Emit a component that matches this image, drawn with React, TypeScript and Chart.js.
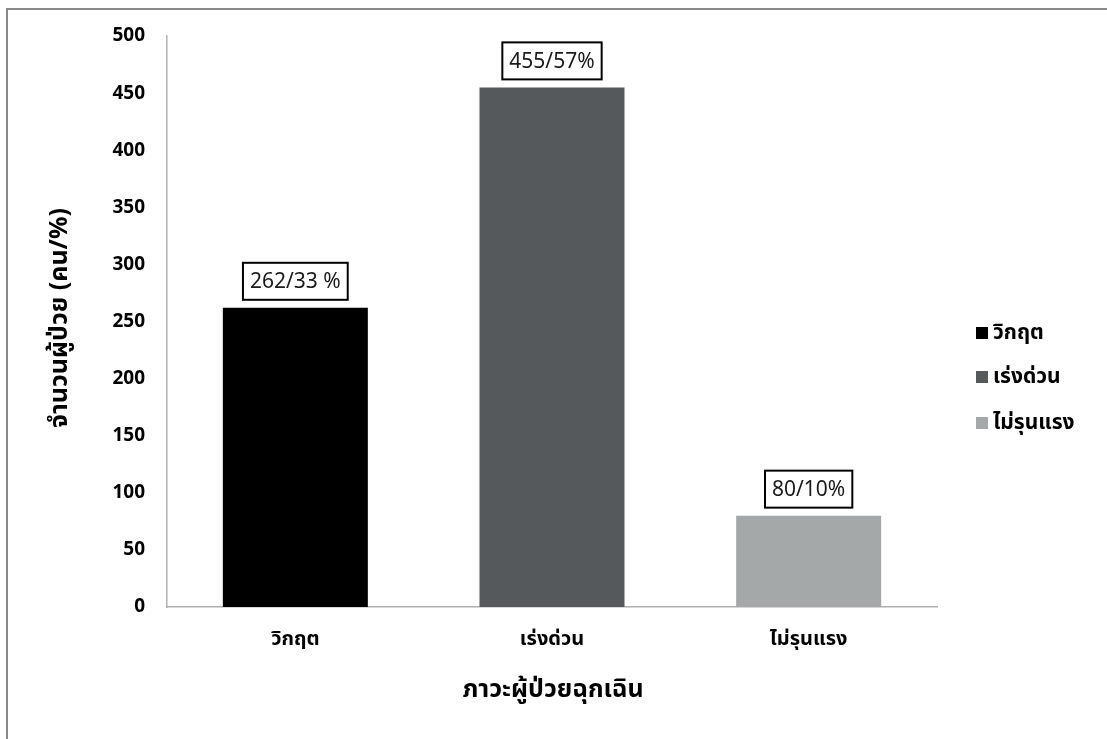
import React, { useEffect, useRef } from "react";
import { Chart, registerables } from "chart.js";

Chart.register(...registerables);

const categories = ["วิกฤต", "เร่งด่วน", "ไม่รุนแรง"];
const values = [262, 455, 80];
const valueLabels = ["262/33 %", "455/57%", "80/10%"];
const barColors = ["#000000", "#55595b", "#a4a8a8"];
const yTicks = [0, 50, 100, 150, 200, 250, 300, 350, 400, 450, 500];
const yTitle = "จำนวนผู้ป่วย (คน/%)";
const xTitle = "ภาวะผู้ป่วยฉุกเฉิน";

const FONT = "'Noto Sans', 'Noto Sans Thai', Tahoma, 'DejaVu Sans', sans-serif";

const decorPlugin = {
  id: "decor",
  beforeDraw(chart: any) {
    const ctx = chart.ctx;
    ctx.save();
    ctx.fillStyle = "#ffffff";
    ctx.fillRect(0, 0, chart.width, chart.height);
    ctx.strokeStyle = "#8a8a8a";
    ctx.lineWidth = 2;
    ctx.beginPath();
    ctx.moveTo(6, 9);
    ctx.lineTo(chart.width, 9);
    ctx.moveTo(7, 8);
    ctx.lineTo(7, chart.height);
    ctx.stroke();
    ctx.restore();
  },
  afterDraw(chart: any) {
    const ctx = chart.ctx;
    const meta = chart.getDatasetMeta(0);
    ctx.save();
    // data labels
    ctx.font = `21px ${FONT}`;
    ctx.textAlign = "center";
    ctx.textBaseline = "middle";
    meta.data.forEach((bar: any, i: number) => {
      const text = valueLabels[i];
      const w = ctx.measureText(text).width + 14;
      const h = 37;
      const bottom = bar.y - 8;
      const x0 = bar.x - w / 2;
      ctx.fillStyle = "#ffffff";
      ctx.fillRect(x0, bottom - h, w, h);
      ctx.strokeStyle = "#000000";
      ctx.lineWidth = 2;
      ctx.strokeRect(x0, bottom - h, w, h);
      ctx.fillStyle = "#1a1a1a";
      ctx.fillText(text, bar.x, bottom - h / 2 + 1);
    });
    // legend
    const legendY = [333, 377, 423];
    ctx.font = `bold 21px ${FONT}`;
    ctx.textAlign = "left";
    categories.forEach((c, i) => {
      ctx.fillStyle = barColors[i];
      ctx.fillRect(976, legendY[i] - 6, 12, 12);
      ctx.fillStyle = "#000000";
      ctx.fillText(c, 993, legendY[i]);
    });
    // axis titles
    ctx.font = `bold 25px ${FONT}`;
    ctx.textAlign = "center";
    ctx.fillText(xTitle, 553, 690);
    ctx.translate(60, 318);
    ctx.rotate(-Math.PI / 2);
    ctx.fillText(yTitle, 0, 0);
    ctx.restore();
  },
};

export default function App() {
  const ref = useRef<HTMLCanvasElement>(null);
  useEffect(() => {
    document.body.style.margin = "0";
    const chart = new Chart(ref.current as HTMLCanvasElement, {
      type: "bar",
      data: {
        labels: categories,
        datasets: [
          {
            data: values,
            backgroundColor: barColors,
            borderWidth: 0,
            categoryPercentage: 1,
            barPercentage: 0.565,
          },
        ],
      },
      options: {
        responsive: false,
        animation: false,
        events: [],
        layout: { padding: { left: 0, top: 36, right: 170, bottom: 0 } },
        plugins: { legend: { display: false }, tooltip: { enabled: false } },
        scales: {
          x: {
            grid: { display: false, drawTicks: false },
            border: { display: true, color: "#b0b0b0", width: 1.5 },
            ticks: {
              color: "#000000",
              font: { family: FONT, size: 20, weight: "bold" },
              padding: 20,
            },
            afterFit: (s: any) => {
              s.height = 132;
            },
          },
          y: {
            min: 0,
            max: 500,
            afterBuildTicks: (s: any) => {
              s.ticks = yTicks.map((v) => ({ value: v }));
            },
            grid: { display: false, drawTicks: false },
            border: { display: true, color: "#b0b0b0", width: 1.5 },
            ticks: {
              color: "#000000",
              font: { family: FONT, size: 19, weight: "bold" },
              padding: 22,
            },
            afterFit: (s: any) => {
              s.width = 167;
            },
          },
        },
      },
      plugins: [decorPlugin],
    });
    return () => chart.destroy();
  }, []);
  return <canvas ref={ref} width={1107} height={739} />;
}
